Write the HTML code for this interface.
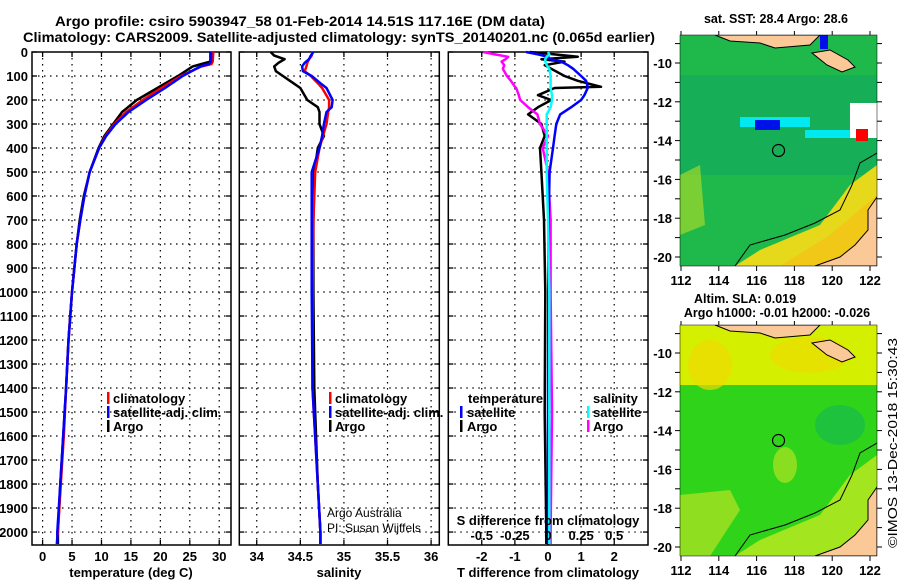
<!DOCTYPE html>
<html><head><meta charset="utf-8"><style>
html,body{margin:0;padding:0;background:#fff;}
svg{display:block;font-family:"Liberation Sans",Arial,sans-serif;}
.b{font-weight:bold;}
</style></head><body>
<svg id="chart" width="900" height="580" viewBox="0 0 900 580" xmlns="http://www.w3.org/2000/svg">
<rect width="900" height="580" fill="#fff"/>
<text class="b" x="55" y="26" font-size="14" textLength="490" lengthAdjust="spacingAndGlyphs">Argo profile: csiro 5903947_58 01-Feb-2014 14.51S 117.16E (DM data)</text>
<text class="b" x="23" y="42" font-size="14" textLength="632" lengthAdjust="spacingAndGlyphs">Climatology: CARS2009. Satellite-adjusted climatology: synTS_20140201.nc (0.065d earlier)</text>
<g id="panels"></g>
<g id="maps"></g>
<text x="0" y="0" font-size="13" transform="translate(897,548) rotate(-90)" textLength="210" lengthAdjust="spacingAndGlyphs">©IMOS 13-Dec-2018 15:30:43</text>
</svg>
<script>
// ---------- data ----------
const depthTicks = [0,100,200,300,400,500,600,700,800,900,1000,1100,1200,1300,1400,1500,1600,1700,1800,1900,2000];
const tempTicks = [0,5,10,15,20,25,30];
const salTicks = [34,34.5,35,35.5,36];
const tdiffTicks = [-2,-1,0,1,2];
const sdiffTicks = [-0.5,-0.25,0,0.25,0.5];
const tDepth = [0,40,50,60,100,150,200,250,300,350,400,500,600,700,800,1000,1200,1400,1600,1800,2000,2050];
const tArgo  = [28.5,28.5,27,25.5,23,19.5,16,13.5,12,10.5,9.5,8,7,6.3,5.8,5,4.4,4,3.5,3,2.6,2.6];
const tClim  = [29,28.9,28.7,27,23.5,20.2,17,14.2,12.2,10.7,9.6,8,7.1,6.4,5.8,5,4.4,4,3.6,3.1,2.6,2.4];
const tSat   = [28.6,28.6,28.3,26.8,23.8,20.8,17.6,14.6,12.4,10.8,9.6,8,7.1,6.4,5.8,5,4.4,4,3.5,3,2.5,2.5];
const sDepth = [0,15,30,45,60,80,100,130,150,200,230,250,300,350,400,500,700,1000,1400,1800,2000,2050];
const sArgo  = [34.16,34.2,34.32,34.25,34.2,34.22,34.3,34.42,34.5,34.58,34.7,34.72,34.72,34.77,34.7,34.66,34.65,34.65,34.66,34.7,34.73,34.73];
const sClim  = [34.64,34.63,34.6,34.58,34.57,34.55,34.62,34.7,34.75,34.83,34.83,34.82,34.8,34.76,34.72,34.67,34.65,34.64,34.64,34.7,34.73,34.73];
const sSat   = [34.65,34.62,34.6,34.55,34.52,34.53,34.63,34.73,34.8,34.87,34.86,34.8,34.77,34.75,34.72,34.63,34.63,34.63,34.64,34.7,34.73,34.73];
const dDepth = [0,10,20,30,40,55,70,100,120,145,150,180,200,230,260,300,350,400,500,700,1000,1500,2000,2050];
const tdArgo = [-0.55,0.2,0.9,-0.2,0.5,-0.1,0.1,0.5,0.9,1.6,0.2,-0.3,0.1,-0.3,-0.6,-0.2,-0.1,-0.24,-0.2,-0.12,-0.08,-0.1,-0.05,-0.05];
const tdSat  = [-0.66,-0.3,0.0,0.07,0.4,0.6,0.76,1.0,1.15,1.2,1.2,1.1,1.0,0.7,0.37,0.25,0.2,0.15,0.05,0.02,0.01,0.0,0.0,0.0];
const sdArgo = [-0.49,-0.4,-0.3,-0.32,-0.35,-0.33,-0.34,-0.31,-0.28,-0.25,-0.24,-0.22,-0.21,-0.15,-0.08,-0.06,0.0,-0.04,0.0,0.02,0.02,0.03,0.02,0.02];
const sdSat  = [0.0,0.01,-0.01,-0.02,-0.02,-0.01,0.01,0.02,0.02,0.02,0.02,0.03,0.03,0.02,-0.01,-0.01,-0.01,-0.01,-0.01,0.0,0.01,0.01,0.01,0.01];

const NS = "http://www.w3.org/2000/svg";
function mk(parent, tag, attrs){const e=document.createElementNS(NS,tag);for(const k in attrs)e.setAttribute(k,attrs[k]);parent.appendChild(e);return e;}
const Y0=52, Y1=545, D0=0, D1=2054;
function yD(d){return Y0+(d-D0)/(D1-D0)*(Y1-Y0);}
const panels = document.getElementById('panels');

function panel(name, x0, x1, v0, v1, ticks, tickFmt, gridTicks, depthLabels){
  const g = mk(panels,'g',{});
  
  
  const xs = v => x0+(v-v0)/(v1-v0)*(x1-x0);
  // grid
  depthTicks.forEach(d=>{ if(d>0){ mk(g,'line',{x1:x0,x2:x1,y1:yD(d),y2:yD(d),stroke:'#000','stroke-width':1.2,'stroke-dasharray':'1.5,4.5'}); }
    mk(g,'line',{x1:x0,x2:x0+5,y1:yD(d),y2:yD(d),stroke:'#000','stroke-width':1.3});
    mk(g,'line',{x1:x1-5,x2:x1,y1:yD(d),y2:yD(d),stroke:'#000','stroke-width':1.3});
    if(depthLabels){ const t=mk(g,'text',{x:28,y:yD(d)+5,'font-size':13,'text-anchor':'end','class':'b'}); t.textContent=d;
        }
  });
  gridTicks.forEach(v=>{ mk(g,'line',{x1:xs(v),x2:xs(v),y1:Y0,y2:Y1,stroke:'#000','stroke-width':1.2,'stroke-dasharray':'1.5,4.5'});
    mk(g,'line',{x1:xs(v),x2:xs(v),y1:Y0,y2:Y0+5,stroke:'#000','stroke-width':1.3});
    mk(g,'line',{x1:xs(v),x2:xs(v),y1:Y1-5,y2:Y1,stroke:'#000','stroke-width':1.3});
  });
  ticks.forEach((v,i)=>{ const t=mk(g,'text',{x:xs(v),y:561,'font-size':13,'text-anchor':'middle','class':'b'}); t.textContent=tickFmt[i];
      });
  mk(g,'rect',{x:x0,y:Y0,width:x1-x0,height:Y1-Y0,fill:'none',stroke:'#000','stroke-width':1.5});
  return {g,xs};
}
function series(p, vals, depths, color, name, w){
  const pts = vals.map((v,i)=>p.xs(v).toFixed(1)+','+yD(depths[i]).toFixed(1)).join(' ');
  const e = mk(p.g,'polyline',{points:pts,fill:'none',stroke:color,'stroke-width':w||2.5,'stroke-linejoin':'round'});
  
  
}
function txt(g,x,y,s,size,bold,anchor,name){const t=mk(g,'text',{x:x,y:y,'font-size':size,'text-anchor':anchor||'start'}); if(bold)t.setAttribute('class','b'); t.textContent=s;
    return t;}
function legendBar(g,x,y,color){mk(g,'rect',{x:x,y:y-11,width:2.5,height:12,fill:color});}

// Panel 1 temperature
const p1 = panel('temperature-panel',32,231,-1.8,32,tempTicks,tempTicks.map(String),tempTicks,true);
series(p1,tArgo,tDepth,'#000','argo-temperature-line');
series(p1,tClim,tDepth,'#f00','climatology-temperature-line');
series(p1,tSat,tDepth,'#00f','satellite-temperature-line');
txt(p1.g,131,577,'temperature (deg C)',13,true,'middle','x-axis-title-temperature');
legendBar(p1.g,107,403,'#f00'); txt(p1.g,113,403,'climatology',13,true,'start','legend-climatology');
legendBar(p1.g,107,417,'#00f'); txt(p1.g,113,417,'satellite-adj. clim.',13,true,'start','legend-satellite-adj');
legendBar(p1.g,107,431,'#000'); txt(p1.g,113,431,'Argo',13,true,'start','legend-argo');

// Panel 2 salinity
const p2 = panel('salinity-panel',239.3,439.3,33.8,36.094,salTicks,['34','34.5','35','35.5','36'],salTicks,false);
series(p2,sArgo,sDepth,'#000','argo-salinity-line');
series(p2,sClim,sDepth,'#f00','climatology-salinity-line');
series(p2,sSat,sDepth,'#00f','satellite-salinity-line');
txt(p2.g,339,577,'salinity',13,true,'middle','x-axis-title-salinity');
legendBar(p2.g,329,403,'#f00'); txt(p2.g,335,403,'climatology',13,true,'start','legend-climatology-2');
legendBar(p2.g,329,417,'#00f'); txt(p2.g,335,417,'satellite-adj. clim.',13,true,'start','legend-satellite-adj-2');
legendBar(p2.g,329,431,'#000'); txt(p2.g,335,431,'Argo',13,true,'start','legend-argo-2');
txt(p2.g,327,517,'Argo Australia',12,false,'start','credit-argo-australia');
txt(p2.g,327,532,'PI: Susan Wijffels',12,false,'start','credit-pi');

// Panel 3 differences
const p3 = panel('difference-panel',448.3,648,-3.01,3.02,tdiffTicks,['-2','-1','0','1','2'],tdiffTicks,false);
const sx = v => 448.3+(v+0.7525)/(1.5075)*(648-448.3);
const p3s = {g:p3.g, xs:sx};
series(p3,tdArgo,dDepth,'#000','argo-t-difference-line');
series(p3s,sdArgo,dDepth,'#f0f','argo-s-difference-line');
series(p3,tdSat,dDepth,'#00f','satellite-t-difference-line');
series(p3s,sdSat,dDepth,'#0ff','satellite-s-difference-line');
txt(p3.g,548,577,'T difference from climatology',13,true,'middle','x-axis-title-t-difference');
txt(p3.g,548,525,'S difference from climatology',13,true,'middle','s-difference-axis-title');
sdiffTicks.forEach((v,i)=>{ txt(p3.g,sx(v),540,['-0.5','-0.25','0','0.25','0.5'][i],13,true,'middle','s-diff-tick-label'); });
txt(p3.g,468,403,'temperature',13,true,'start','legend-temperature-header');
legendBar(p3.g,460,417,'#00f'); txt(p3.g,467,417,'satellite',13,true,'start','legend-t-satellite');
legendBar(p3.g,460,431,'#000'); txt(p3.g,467,431,'Argo',13,true,'start','legend-t-argo');
txt(p3.g,593,403,'salinity',13,true,'start','legend-salinity-header');
legendBar(p3.g,587,417,'#0ff'); txt(p3.g,593,417,'satellite',13,true,'start','legend-s-satellite');
legendBar(p3.g,587,431,'#f0f'); txt(p3.g,593,431,'Argo',13,true,'start','legend-s-argo');

// ---------- maps ----------
const maps = document.getElementById('maps');
const lonTicks = [112,114,116,118,120,122];
const latTicks = [-10,-12,-14,-16,-18,-20];
const floatLon = 117.16, floatLat = -14.51;
function map(name, top, title, kind){
  const g = mk(maps,'g',{});
  
  
  const X0=680, X1=877, Yt=top, Yb=top+231;
  const lx = lon => 681+(lon-112)*18.9;
  const ly = lat => (top+28)+(-10-lat)*19.4;
  const cid = 'clip'+top;
  const cp = mk(g,'clipPath',{id:cid}); mk(cp,'rect',{x:X0,y:Yt,width:X1-X0,height:Yb-Yt});
  const c = mk(g,'g',{'clip-path':'url(#'+cid+')'});
  if(kind==='sst'){
    mk(c,'rect',{x:X0,y:Yt,width:197,height:231,fill:'#1fb84a'});
    mk(c,'rect',{x:X0,y:Yt+40,width:197,height:100,fill:'#10a860',opacity:0.6});
    mk(c,'polygon',{points:`${X0},${Yt+140} ${X0+20},${Yt+130} ${X0+25},${Yt+190} ${X0},${Yt+200}`,fill:'#9fd82a',opacity:0.7});
    mk(c,'polygon',{points:`${X0+197},${Yt+130} ${X0+170},${Yt+150} ${X0+140},${Yt+190} ${X0+80},${Yt+215} ${X0+55},${Yt+231} ${X0+197},${Yt+231}`,fill:'#e6d81a'});
    mk(c,'polygon',{points:`${X0+197},${Yt+160} ${X0+150},${Yt+200} ${X0+100},${Yt+231} ${X0+197},${Yt+231}`,fill:'#f2c818'});
    mk(c,'rect',{x:X0+60,y:Yt+82,width:70,height:10,fill:'#00e8f0'});
    mk(c,'rect',{x:X0+75,y:Yt+85,width:25,height:10,fill:'#0010e8'});
    mk(c,'rect',{x:X0+125,y:Yt+95,width:55,height:8,fill:'#00e8f0'});
    mk(c,'rect',{x:X0+170,y:Yt+68,width:27,height:35,fill:'#fff'});
    mk(c,'rect',{x:X0+176,y:Yt+94,width:12,height:12,fill:'#f00'});
    mk(c,'rect',{x:X0+140,y:Yt,width:8,height:14,fill:'#0010e8'});
  } else {
    mk(c,'rect',{x:X0,y:Yt,width:197,height:231,fill:'#2fd41a'});
    mk(c,'rect',{x:X0,y:Yt,width:197,height:60,fill:'#d4f000'});
    mk(c,'ellipse',{cx:X0+30,cy:Yt+40,rx:22,ry:25,fill:'#f0d800',opacity:0.7});
    mk(c,'ellipse',{cx:X0+130,cy:Yt+30,rx:40,ry:18,fill:'#f0d800',opacity:0.6});
    mk(c,'ellipse',{cx:X0+160,cy:Yt+100,rx:25,ry:20,fill:'#10b060',opacity:0.5});
    mk(c,'ellipse',{cx:X0+105,cy:Yt+140,rx:12,ry:18,fill:'#a0e020',opacity:0.8});
    mk(c,'polygon',{points:`${X0},${Yt+170} ${X0+50},${Yt+165} ${X0+60},${Yt+185} ${X0+30},${Yt+231} ${X0},${Yt+231}`,fill:'#a8e020',opacity:0.8});
    mk(c,'polygon',{points:`${X0+197},${Yt+130} ${X0+170},${Yt+150} ${X0+140},${Yt+190} ${X0+80},${Yt+215} ${X0+55},${Yt+231} ${X0+197},${Yt+231}`,fill:'#b0e820',opacity:0.9});
  }
  // land
  const land = mk(c,'polygon',{points:`${X0+35},${Yt} ${X0+140},${Yt} ${X0+130},${Yt+10} ${X0+95},${Yt+13} ${X0+80},${Yt+8} ${X0+50},${Yt+6}`,fill:'#fbc898',stroke:'#000','stroke-width':1});
   
  mk(c,'polygon',{points:`${X0+132},${Yt+18} ${X0+150},${Yt+15} ${X0+168},${Yt+25} ${X0+175},${Yt+32} ${X0+162},${Yt+37} ${X0+147},${Yt+30}`,fill:'#fbc898',stroke:'#000','stroke-width':1});
  mk(c,'polygon',{points:`${X0+197},${Yt+162} ${X0+188},${Yt+175} ${X0+188},${Yt+195} ${X0+175},${Yt+210} ${X0+160},${Yt+222} ${X0+135},${Yt+231} ${X0+197},${Yt+231}`,fill:'#fbc898',stroke:'#000','stroke-width':1});
  mk(c,'polyline',{points:`${X0+197},${Yt+118} ${X0+180},${Yt+128} ${X0+172},${Yt+150} ${X0+160},${Yt+175} ${X0+135},${Yt+188} ${X0+105},${Yt+200} ${X0+70},${Yt+210} ${X0+55},${Yt+231}`,fill:'none',stroke:'#000','stroke-width':1});
  const circ = mk(c,'circle',{cx:lx(floatLon),cy:ly(floatLat),r:6,fill:'none',stroke:'#000','stroke-width':1.2});
   
  mk(g,'rect',{x:X0,y:Yt,width:X1-X0,height:Yb-Yt,fill:'none',stroke:'#000','stroke-width':0.5});
  lonTicks.forEach(v=>{ mk(g,'line',{x1:lx(v),x2:lx(v),y1:Yb,y2:Yb+5,stroke:'#000'}); mk(g,'line',{x1:lx(v),x2:lx(v),y1:Yt-4,y2:Yt,stroke:'#000'});
    txt(g,lx(v),Yb+19,String(v),13,true,'middle','lon-tick-label'); });
  for(let la=-9;la>=-20;la--){ mk(g,'line',{x1:675,x2:680,y1:ly(la),y2:ly(la),stroke:'#000'}); mk(g,'line',{x1:877,x2:882,y1:ly(la),y2:ly(la),stroke:'#000'}); }
  latTicks.forEach(v=>{ txt(g,672,ly(v)+5,String(v),13,true,'end','lat-tick-label'); });
  title.forEach((t,i)=>txt(g,t[1],t[2],t[0],12.5,true,'middle','map-title'));
}
map('sst-map',35,[['sat. SST: 28.4 Argo: 28.6',776,23]],'sst');
map('sla-map',325,[['Altim. SLA: 0.019',745,303],['Argo h1000: -0.01 h2000: -0.026',777,317]],'sla');
</script>
</body></html>
